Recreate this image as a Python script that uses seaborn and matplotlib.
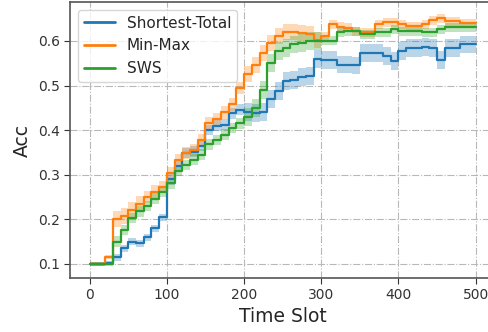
import numpy as np
import pandas as pd
import matplotlib
matplotlib.use("Agg")
import matplotlib.pyplot as plt
import seaborn as sns

time_slots = list(range(0, 501, 10))
series_names = ["Shortest-Total", "Min-Max", "SWS"]

shortest_total = [
    0.100, 0.100, 0.103, 0.115, 0.135, 0.150, 0.146, 0.160, 0.180, 0.205,
    0.290, 0.319, 0.349, 0.352, 0.365, 0.400, 0.410, 0.412, 0.438, 0.446,
    0.440, 0.438, 0.440, 0.470, 0.488, 0.510, 0.513, 0.520, 0.521, 0.560,
    0.558, 0.558, 0.547, 0.547, 0.545, 0.573, 0.573, 0.573, 0.566, 0.555,
    0.577, 0.585, 0.585, 0.587, 0.585, 0.558, 0.585, 0.585, 0.592, 0.592,
    0.592]
min_max = [
    0.100, 0.100, 0.115, 0.200, 0.208, 0.222, 0.235, 0.250, 0.262, 0.272,
    0.304, 0.332, 0.349, 0.356, 0.378, 0.415, 0.425, 0.440, 0.458, 0.495,
    0.525, 0.547, 0.572, 0.595, 0.610, 0.619, 0.619, 0.617, 0.615, 0.603,
    0.611, 0.637, 0.632, 0.630, 0.622, 0.619, 0.619, 0.637, 0.642, 0.642,
    0.637, 0.633, 0.633, 0.637, 0.646, 0.651, 0.644, 0.644, 0.640, 0.640,
    0.640]
sws = [
    0.100, 0.100, 0.100, 0.150, 0.176, 0.203, 0.218, 0.230, 0.246, 0.262,
    0.281, 0.309, 0.322, 0.334, 0.345, 0.368, 0.378, 0.390, 0.405, 0.415,
    0.430, 0.449, 0.490, 0.550, 0.577, 0.585, 0.592, 0.596, 0.600, 0.600,
    0.600, 0.600, 0.619, 0.622, 0.622, 0.615, 0.615, 0.619, 0.619, 0.626,
    0.622, 0.622, 0.622, 0.619, 0.619, 0.626, 0.631, 0.631, 0.631, 0.631,
    0.631]

# half-width of the shaded band around each series
shortest_total_spread = [0.004] * 3 + [0.008] * 7 + [0.012] * 10 + [0.02] * 31
min_max_spread = [0.004] * 3 + [0.018] * 4 + [0.014] * 13 + [0.018] * 10 + [0.01] * 21
sws_spread = [0.004] * 3 + [0.012] * 17 + [0.02] * 10 + [0.01] * 21

sns.set_style("ticks", {"axes.grid": True, "grid.linestyle": "-.",
                        "grid.color": "#b8b8b8"})
plt.rcParams["font.family"] = ["DejaVu Sans"]

rows = []
for name, vals, spread in [("Shortest-Total", shortest_total, shortest_total_spread),
                           ("Min-Max", min_max, min_max_spread),
                           ("SWS", sws, sws_spread)]:
    for t, v, s in zip(time_slots, vals, spread):
        for val in (v - s, v, v + s):
            rows.append({"Time Slot": t, "Acc": val, "Method": name})
df = pd.DataFrame(rows)

fig = plt.figure(figsize=(4.89, 3.32), dpi=100)
ax = fig.add_axes([0.1438, 0.1627, 0.8685, 0.831])

palette = {"Shortest-Total": "#1f77b4", "Min-Max": "#ff7f0e", "SWS": "#2ca02c"}
sns.lineplot(data=df, x="Time Slot", y="Acc", hue="Method",
             hue_order=series_names, palette=palette,
             estimator="median", errorbar=("pi", 100),
             drawstyle="steps-post", linewidth=1.6,
             err_kws={"step": "post", "alpha": 0.3, "linewidth": 0},
             ax=ax)

ax.set_xlim(-25, 525)
ax.set_ylim(0.0686, 0.687)
ax.set_xticks([0, 100, 200, 300, 400, 500])
ax.set_yticks([0.1, 0.2, 0.3, 0.4, 0.5, 0.6])
ax.tick_params(labelsize=10, colors="#333333", length=4)
ax.set_xlabel("Time Slot", fontsize=13.5, color="#262626", labelpad=3)
ax.set_ylabel("Acc", fontsize=13.5, color="#262626")
for sp in ax.spines.values():
    sp.set_color("#555555")
    sp.set_linewidth(1.2)
ax.spines["right"].set_visible(False)

handles, labels = ax.get_legend_handles_labels()
leg = ax.legend(handles, labels, loc="upper left", fontsize=11, frameon=True)
for h in leg.get_lines():
    h.set_linewidth(2)

fig.savefig("out.png", dpi=100)
